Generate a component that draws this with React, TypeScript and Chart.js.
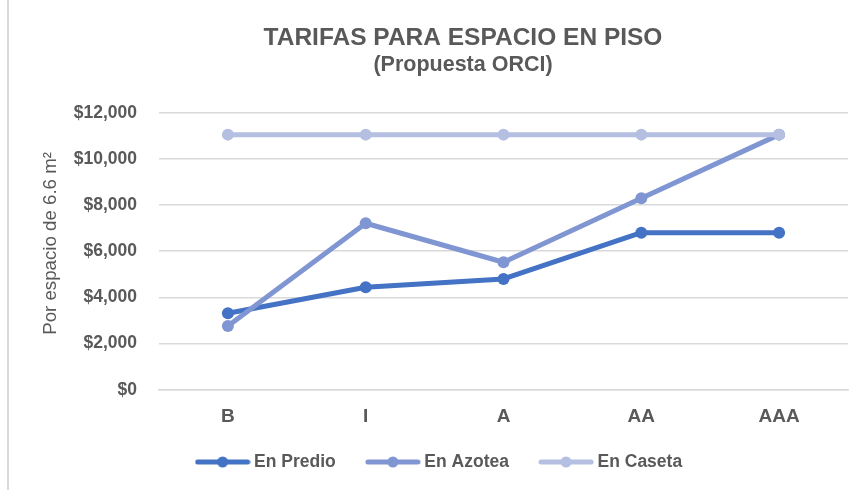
import React, { useEffect, useRef } from 'react';
import { Chart, registerables } from 'chart.js';

Chart.register(...registerables);

const categories = ['B', 'I', 'A', 'AA', 'AAA'];
const enPredio = [3310, 4440, 4800, 6800, 6800];
const enAzotea = [2760, 7210, 5520, 8290, 11050];
const enCaseta = [11050, 11050, 11050, 11050, 11050];
const seriesNames = ['En Predio', 'En Azotea', 'En Caseta'];
const seriesColors = ['#4472C4', '#7F96D2', '#B4BFE1'];
const yMin = 0;
const yMax = 12000;
const yStep = 2000;
const titleText = 'TARIFAS PARA ESPACIO EN PISO';
const subtitleText = '(Propuesta ORCI)';
const yAxisTitle = '\u00A0\u00A0\u00A0Por espacio de 6.6 m\u00B2';

const FONT = '"Liberation Sans", Arial, sans-serif';
const TEXT = '#595959';
const GRID = '#D9D9D9';
const LEGEND_GAP = '\u00A0\u00A0\u00A0\u00A0\u00A0';

function makeLegendIcon(color: string): HTMLCanvasElement {
  const c = document.createElement('canvas');
  c.width = 56;
  c.height = 14;
  const ctx = c.getContext('2d')!;
  ctx.strokeStyle = color;
  ctx.lineWidth = 5;
  ctx.lineCap = 'round';
  ctx.beginPath();
  ctx.moveTo(3, 7);
  ctx.lineTo(53, 7);
  ctx.stroke();
  ctx.fillStyle = color;
  ctx.beginPath();
  ctx.arc(28, 7, 5.5, 0, Math.PI * 2);
  ctx.fill();
  return c;
}

const decorPlugin = {
  id: 'decor',
  beforeDraw(chart: any) {
    const ctx = chart.ctx;
    ctx.save();
    ctx.fillStyle = '#ffffff';
    ctx.fillRect(0, 0, chart.width, chart.height);
    ctx.strokeStyle = GRID;
    ctx.lineWidth = 2;
    ctx.beginPath();
    ctx.moveTo(8, 0);
    ctx.lineTo(8, chart.height);
    ctx.stroke();
    ctx.restore();
  },
  afterDraw(chart: any) {
    const ctx = chart.ctx;
    ctx.save();
    ctx.fillStyle = TEXT;
    ctx.textAlign = 'center';
    ctx.textBaseline = 'middle';
    ctx.font = `bold 24.5px ${FONT}`;
    ctx.fillText(titleText, 463, 38);
    ctx.font = `bold 21.5px ${FONT}`;
    ctx.fillText(subtitleText, 463, 65);
    ctx.restore();
  },
};

export default function App() {
  const ref = useRef<HTMLCanvasElement | null>(null);

  useEffect(() => {
    document.body.style.margin = '0';
    const canvas = ref.current!;
    const series = [enPredio, enAzotea, enCaseta];
    const icons = seriesColors.map(makeLegendIcon);
    const chart = new Chart(canvas, {
      type: 'line',
      data: {
        labels: categories,
        datasets: series.map((d, i) => ({
          label: seriesNames[i],
          data: d,
          borderColor: seriesColors[i],
          backgroundColor: seriesColors[i],
          pointBackgroundColor: seriesColors[i],
          pointBorderColor: seriesColors[i],
          borderWidth: 5,
          pointRadius: 6,
          pointBorderWidth: 0,
          borderJoinStyle: 'round',
          borderCapStyle: 'round',
          tension: 0,
          fill: false,
          order: 3 - i,
        })),
      },
      options: {
        animation: false,
        responsive: false,
        events: [],
        layout: { padding: { top: 112.7, left: 34, right: 14, bottom: 9.25 } },
        plugins: {
          title: { display: false },
          tooltip: { enabled: false },
          legend: {
            display: true,
            position: 'bottom',
            labels: {
              usePointStyle: true,
              pointStyleWidth: 45.5,
              padding: 10,
              color: TEXT,
              font: { family: FONT, size: 17.5, weight: 'bold' },
              generateLabels: (ch: any) =>
                ch.data.datasets.map((ds: any, i: number, arr: any[]) => ({
                  text: ds.label + (i < arr.length - 1 ? LEGEND_GAP : ''),
                  fillStyle: seriesColors[i],
                  strokeStyle: seriesColors[i],
                  lineWidth: 0,
                  pointStyle: icons[i],
                  hidden: false,
                  datasetIndex: i,
                  fontColor: TEXT,
                })),
            },
          },
        },
        scales: {
          x: {
            type: 'category',
            offset: true,
            grid: { display: false, drawTicks: false },
            border: { display: true, color: GRID, width: 1.5 },
            ticks: {
              color: TEXT,
              padding: 16,
              font: { family: FONT, size: 19, weight: 'bold' },
            },
            afterFit: (scale: any) => {
              scale.height = 53.55;
            },
          },
          y: {
            min: yMin,
            max: yMax,
            grid: { color: GRID, lineWidth: 1.5, drawTicks: false },
            border: { display: false },
            ticks: {
              stepSize: yStep,
              color: TEXT,
              padding: 22,
              font: { family: FONT, size: 17.5, weight: 'bold' },
              callback: (v: any) => '$' + Number(v).toLocaleString('en-US'),
            },
            title: {
              display: true,
              text: yAxisTitle,
              color: TEXT,
              font: { family: FONT, size: 18.7, weight: 'normal' },
              padding: { top: 6, bottom: 0 },
            },
            afterFit: (scale: any) => {
              scale.width = 125;
            },
          },
        },
      },
      plugins: [decorPlugin],
    } as any);
    return () => chart.destroy();
  }, []);

  return (
    <div style={{ position: 'fixed', left: 0, top: 0, width: 862, height: 490, background: '#fff' }}>
      <canvas ref={ref} width={862} height={490} style={{ display: 'block', width: 862, height: 490 }} />
    </div>
  );
}
